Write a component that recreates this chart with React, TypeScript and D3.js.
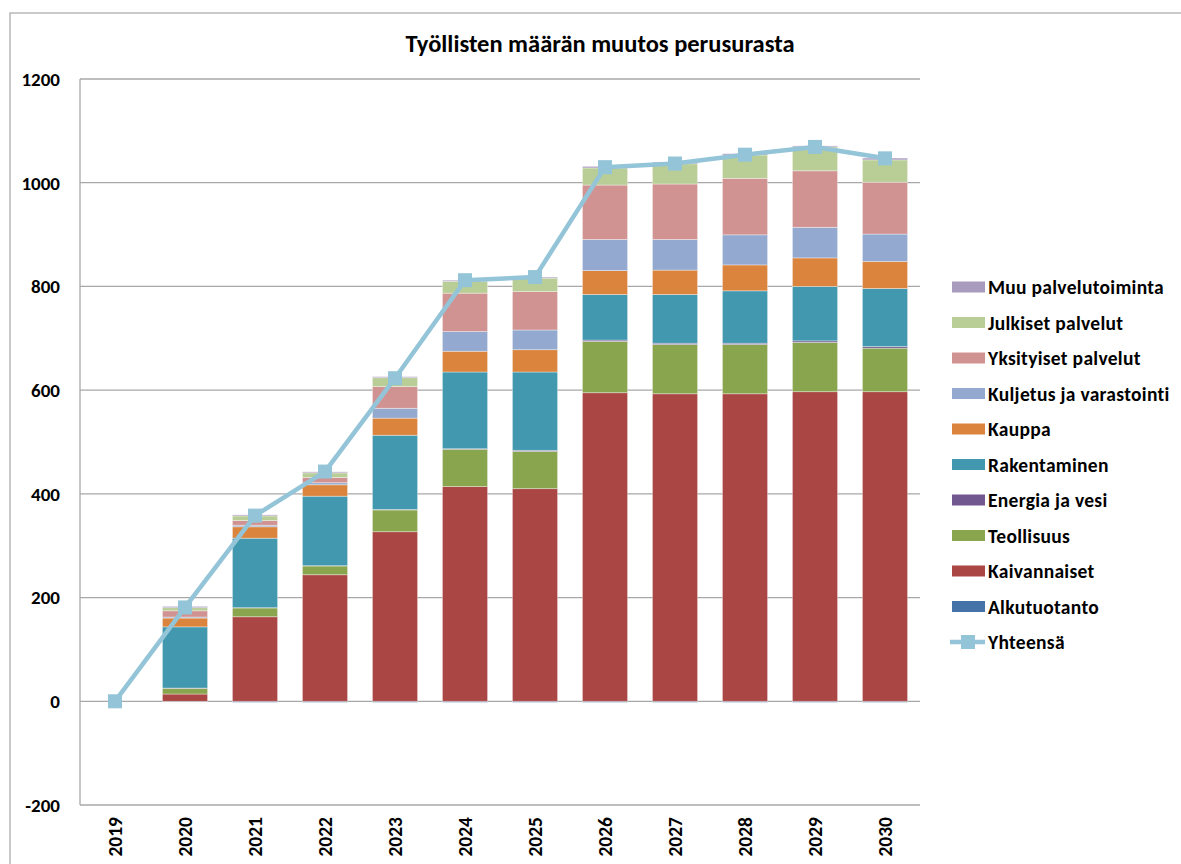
import React from "react";
import * as d3 from "d3";

const years = ["2019","2020","2021","2022","2023","2024","2025","2026","2027","2028","2029","2030"];
const alkutuotanto = [0,-1,-2,-2,-2,-2,-2,-2,-2,-2,-2,-2];
const kaivannaiset = [0,14,163,244,327,414,410,595,593,593,597,597];
const teollisuus = [0,11,17,17,42,72,72,99,95,95,95,84];
const energia = [0,0.5,0.5,0.5,1,1,2,2.5,2.5,2.5,3,3];
const rakentaminen = [0,118,134,134,143,148,151,88,94,101,105,112];
const kauppa = [0,17,22,22,33,40,43,46,47,50,55,52];
const kuljetus = [0,2,3,4,19,38,38,60,59,58,59,53];
const yksityiset = [0,12,9,10,42,74,74,105,107,109,109,100];
const julkiset = [0,6,9,9,17,23,26,33,39,45,46,43];
const muu = [0,2.5,2,2,2,2,2,3,3,2.5,2,3.5];
const yhteensa = [0,181,358,443,623,812,818,1030,1037,1054,1069,1047];
const yTicks = [-200,0,200,400,600,800,1000,1200];

const seriesNames = ["Alkutuotanto","Kaivannaiset","Teollisuus","Energia ja vesi","Rakentaminen","Kauppa","Kuljetus ja varastointi","Yksityiset palvelut","Julkiset palvelut","Muu palvelutoiminta"];
const seriesValues = [alkutuotanto,kaivannaiset,teollisuus,energia,rakentaminen,kauppa,kuljetus,yksityiset,julkiset,muu];
const seriesColors = ["#4572A7","#AA4643","#89A54E","#71588F","#4198AF","#DB843D","#93A9CF","#D19392","#B9CD96","#A99BBD"];
const lineColor = "#93C4D7";
const lineName = "Yhteensä";

const FONT = "Carlito, Calibri, Lato, 'Liberation Sans', sans-serif";

export default function App() {
  const W = 1181, H = 864;
  const x = d3.scaleBand<string>().domain(years).range([80, 920]).padding(0);
  const y = d3.scaleLinear().domain([-200, 1200]).range([805, 79]);
  const barW = x.bandwidth() * 0.645;

  const table = years.map((yr, i) => {
    const row: any = { year: yr };
    seriesNames.forEach((n, k) => (row[n] = seriesValues[k][i]));
    return row;
  });
  const stacked = d3.stack<any>().keys(seriesNames).offset(d3.stackOffsetDiverging)(table);

  const cx = (yr: string) => (x(yr) as number) + x.bandwidth() / 2;
  const line = d3.line<number>().x((_, i) => cx(years[i])).y((v) => y(v));

  const legendItems = [...seriesNames.map((n, k) => ({ name: n, color: seriesColors[k], isLine: false }))].reverse();
  legendItems.push({ name: lineName, color: lineColor, isLine: true });

  return (
    <svg width={W} height={H} style={{ position: "absolute", left: 0, top: 0, background: "#fff" }} fontFamily={FONT}>
      <rect x={10} y={13} width={1300} height={1000} fill="none" stroke="#A6A6A6" strokeWidth={1.2} />
      <text x={600} y={52} textAnchor="middle" fontSize={24.5} fontWeight="bold" fill="#000">
        Työllisten määrän muutos perusurasta
      </text>
      {yTicks.map((t) => (
        <g key={t}>
          <line x1={80} x2={920} y1={y(t)} y2={y(t)} stroke="#A8A8A8" strokeWidth={1.3} />
          <text x={60} y={y(t)} dy="0.36em" textAnchor="end" fontSize={19} fontWeight="bold" fill="#000">
            {t}
          </text>
        </g>
      ))}
      <line x1={80} x2={80} y1={79} y2={805} stroke="#A8A8A8" strokeWidth={1.3} />
      {stacked.map((s, k) => (
        <g key={s.key} fill={seriesColors[k]}>
          {s.map((d, i) => {
            const y0 = y(d[0]), y1 = y(d[1]);
            const h = Math.abs(y0 - y1);
            if (h < 0.01) return null;
            return (
              <rect
                key={i}
                x={cx(years[i]) - barW / 2}
                y={Math.min(y0, y1)}
                width={barW}
                height={h}
                stroke="rgba(255,255,255,0.45)"
                strokeWidth={0.8}
              />
            );
          })}
        </g>
      ))}
      <path d={line(yhteensa) || ""} fill="none" stroke={lineColor} strokeWidth={4.5} strokeLinejoin="round" />
      {yhteensa.map((v, i) => (
        <rect key={i} x={cx(years[i]) - 7} y={y(v) - 7} width={14} height={14} fill={lineColor} />
      ))}
      {years.map((yr) => (
        <text
          key={yr}
          transform={`translate(${cx(yr)},817) rotate(-90)`}
          textAnchor="end"
          dy="0.36em"
          fontSize={19.5}
          fontWeight="bold"
          fill="#000"
        >
          {yr}
        </text>
      ))}
      {legendItems.map((it, i) => {
        const ly = 287 + i * 35.5;
        return (
          <g key={it.name}>
            {it.isLine ? (
              <g>
                <line x1={950} x2={985} y1={ly} y2={ly} stroke={it.color} strokeWidth={4.5} />
                <rect x={961} y={ly - 7} width={14} height={14} fill={it.color} />
              </g>
            ) : (
              <rect x={952} y={ly - 5.5} width={33} height={11} fill={it.color} />
            )}
            <text x={988} y={ly} dy="0.36em" fontSize={19.5} letterSpacing={0.3} fontWeight="bold" fill="#000">
              {it.name}
            </text>
          </g>
        );
      })}
    </svg>
  );
}
